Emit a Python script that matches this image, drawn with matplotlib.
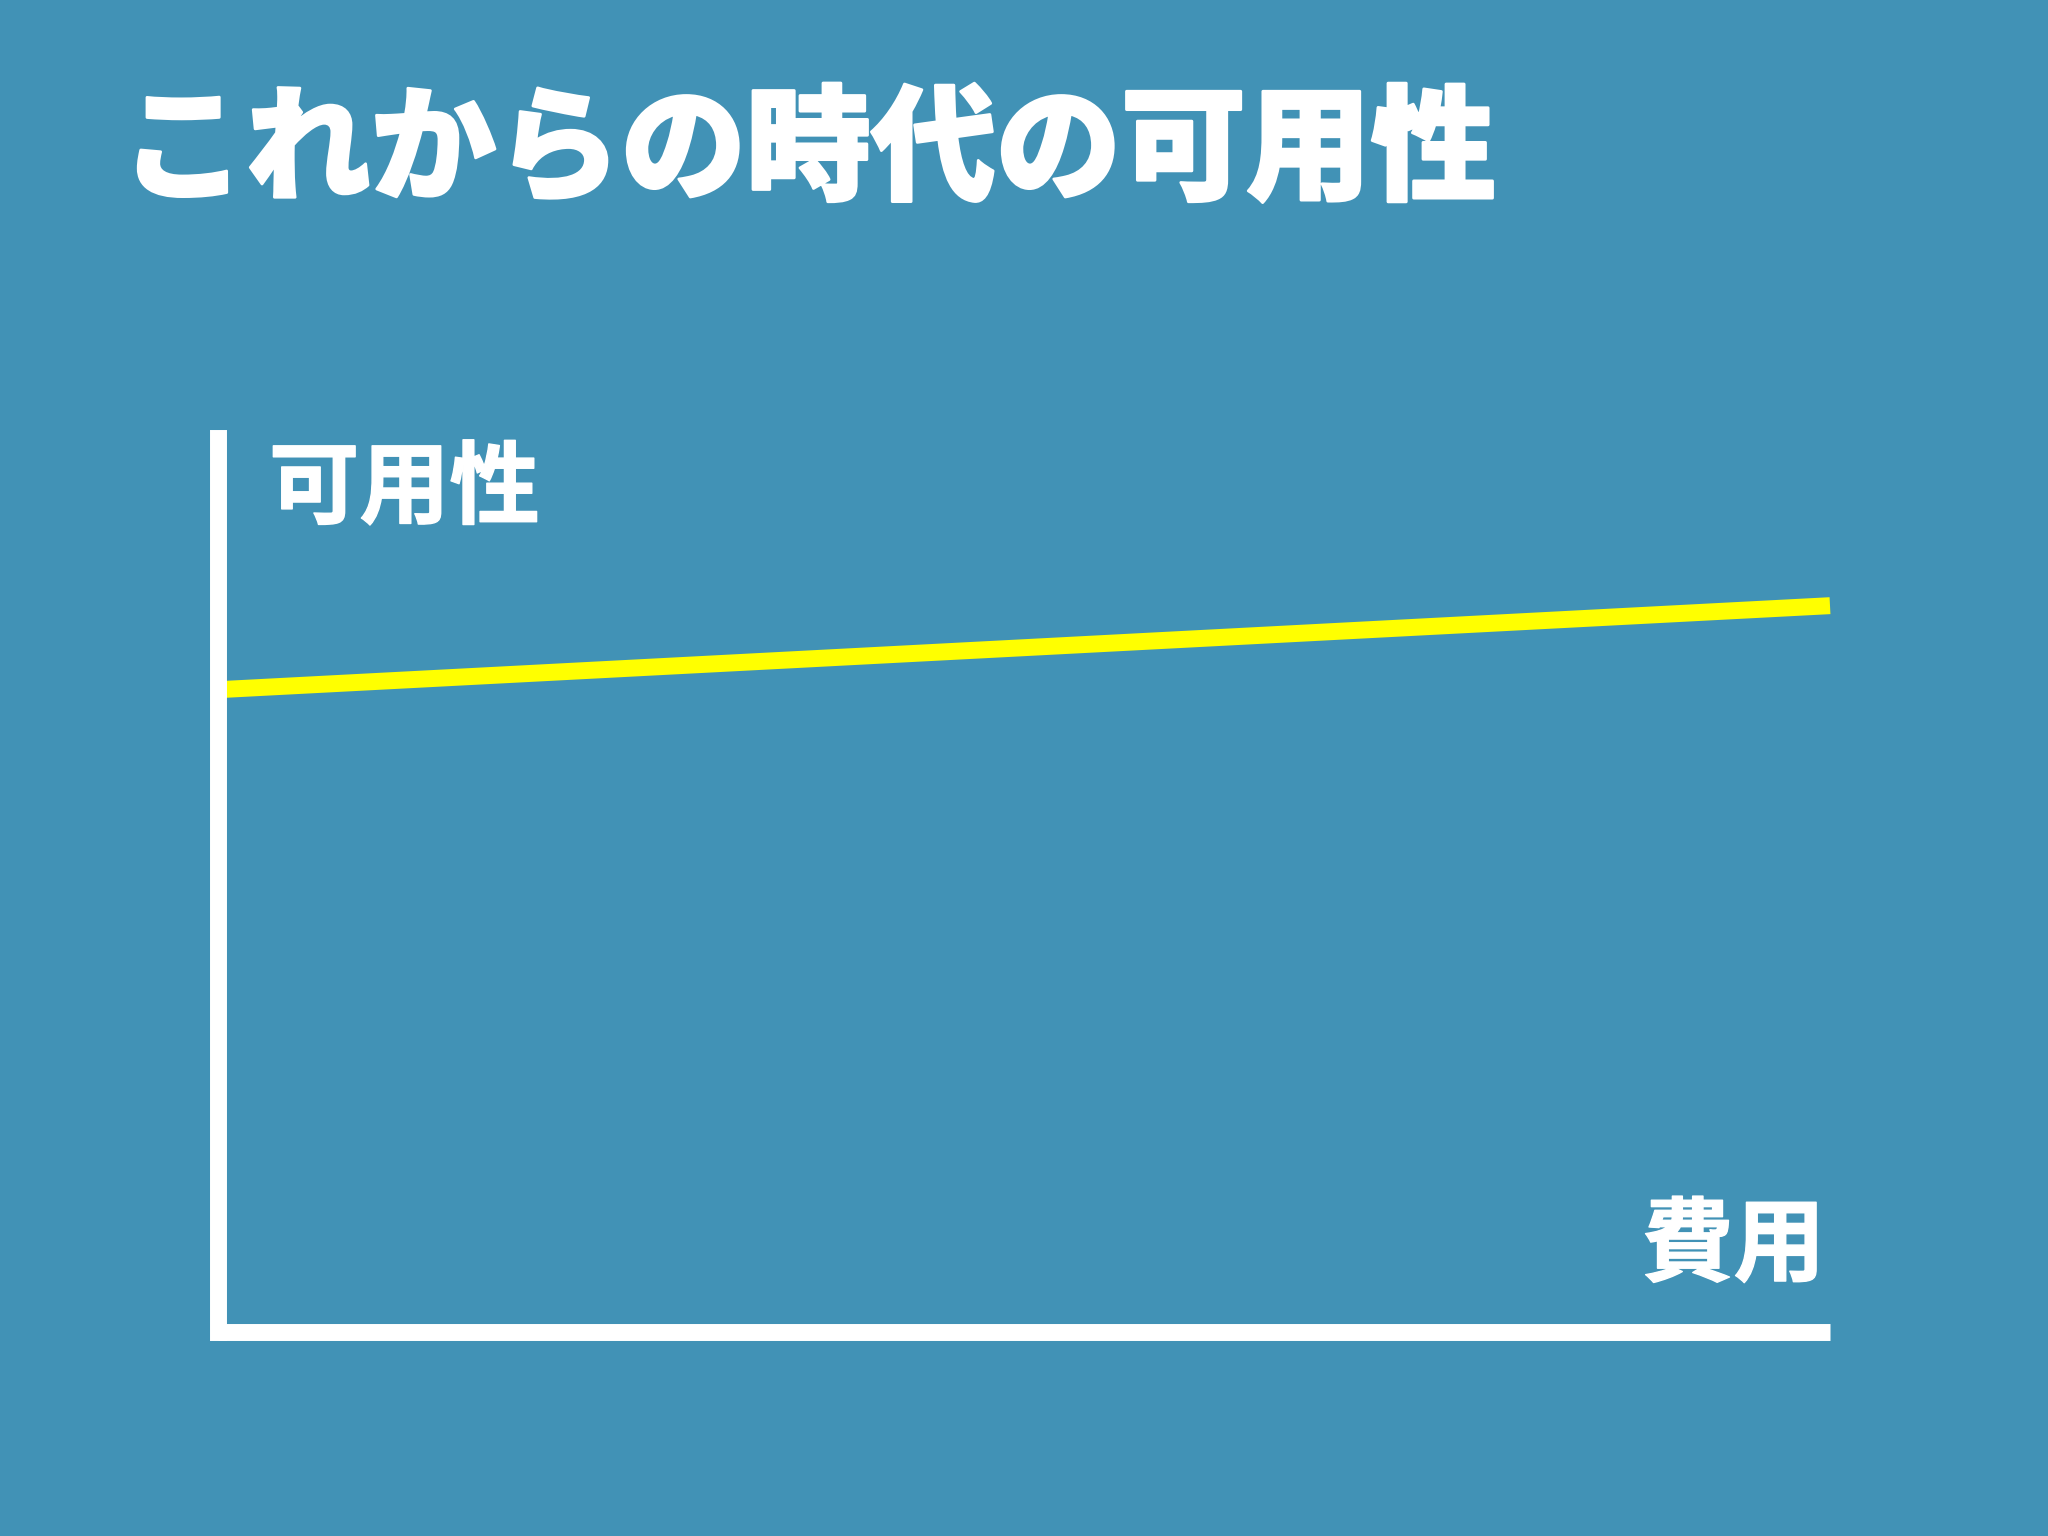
import numpy as np
import matplotlib
matplotlib.use('Agg')
import matplotlib.pyplot as plt
import matplotlib.patheffects as pe

plt.rcParams['font.family'] = ['Noto Sans CJK JP', 'DejaVu Sans']

title = 'これからの時代の可用性'
y_label = '可用性'
x_label = '費用'
cost = [0.0, 1.0]
availability = [0.718, 0.812]

bg = '#4192b6'
fig = plt.figure(figsize=(20.48, 15.36), dpi=100, facecolor=bg)

# axes box in figure fraction
ax = fig.add_axes([217.5/2048, 1 - 1332/1536, (1830 - 217.5)/2048, (1332 - 437.5)/1536])
ax.set_facecolor(bg)
ax.plot(cost, availability, color='#ffff00', lw=12.2, solid_capstyle='butt',
        clip_on=False)
ax.set_xlim(0, 1)
ax.set_ylim(0, 1)
ax.set_xticks([])
ax.set_yticks([])
for s in ['top', 'right']:
    ax.spines[s].set_visible(False)
for s in ['left', 'bottom']:
    ax.spines[s].set_color('white')
    ax.spines[s].set_linewidth(12.2)
ax.spines['left'].set_capstyle('projecting')
ax.spines['bottom'].set_capstyle('butt')

# slight stroke so the title reads heavier, like the original font
heavy = [pe.withStroke(linewidth=2, foreground='white')]
semi = [pe.withStroke(linewidth=1, foreground='white')]

fig.text(121/2048, 1 - 153/1536, title, color='white', fontsize=90,
         fontweight='black', ha='left', va='center', path_effects=heavy)
fig.text(269/2048, 1 - 444/1536, y_label, color='white', fontsize=65,
         fontweight='bold', ha='left', va='top', path_effects=semi)
fig.text(1825/2048, 1 - 1294/1536, x_label, color='white', fontsize=66,
         fontweight='bold', ha='right', va='bottom', path_effects=semi)

fig.savefig('out.png', dpi=100, facecolor=bg)
